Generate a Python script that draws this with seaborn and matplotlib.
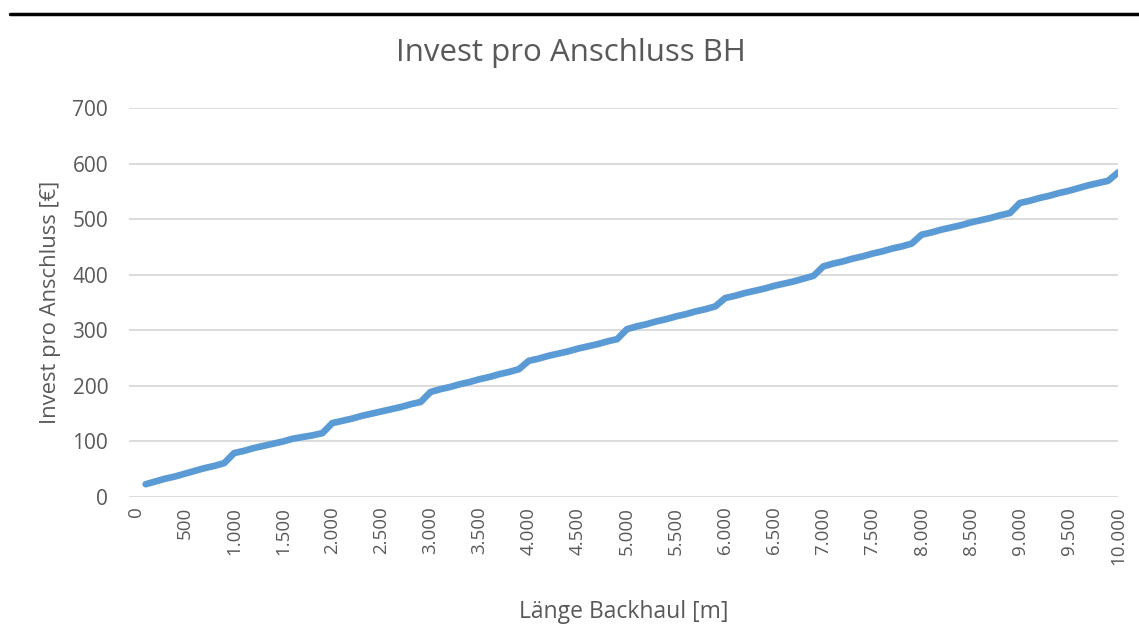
import matplotlib
matplotlib.use('Agg')
import matplotlib.pyplot as plt
from matplotlib.lines import Line2D
from matplotlib.ticker import FuncFormatter
import seaborn as sns

# Data (Länge Backhaul in m, Invest pro Anschluss in €)
laenge = list(range(100, 10100, 100))
invest = [
    23, 28, 33, 37, 42, 47, 52, 56, 61,
    79, 83, 88, 92, 96, 100, 105, 108, 111, 115,
    133, 137, 141, 146, 150, 154, 158, 162, 167, 171,
    189, 194, 198, 203, 207, 212, 216, 221, 225, 230,
    245, 249, 254, 258, 262, 267, 271, 275, 280, 284,
    302, 307, 311, 316, 320, 325, 329, 334, 338, 343,
    358, 362, 367, 371, 375, 380, 384, 388, 393, 398,
    415, 420, 424, 429, 433, 438, 442, 447, 451, 456,
    472, 476, 481, 485, 489, 494, 498, 502, 507, 511,
    529, 533, 538, 542, 547, 551, 556, 561, 565, 569,
    584,
]
x_ticks = list(range(0, 10500, 500))
y_ticks = [0, 100, 200, 300, 400, 500, 600, 700]

title = 'Invest pro Anschluss BH'
x_label = 'Länge Backhaul [m]'
y_label = 'Invest pro Anschluss [€]'

sns.set_theme(style='white')
plt.rcParams['font.family'] = ['Open Sans', 'DejaVu Sans']

grey = '#595959'
fig = plt.figure(figsize=(11.39, 6.37), dpi=100)
ax = fig.add_axes([129 / 1139, 1 - 497 / 637, 989 / 1139, 389 / 637])

sns.lineplot(x=laenge, y=invest, ax=ax, color='#5B9BD5', linewidth=4.8,
             solid_capstyle='round', solid_joinstyle='round')

ax.set_xlim(-70, 10000)
ax.set_ylim(0, 700)
ax.set_xticks(x_ticks)
ax.set_yticks(y_ticks)
ax.xaxis.set_major_formatter(FuncFormatter(lambda v, p: f'{int(v):,}'.replace(',', '.')))
ax.tick_params(axis='x', labelrotation=90, length=0, pad=7, labelsize=13.5, labelcolor=grey)
ax.tick_params(axis='y', length=0, pad=15, labelsize=15, labelcolor=grey)
ax.grid(axis='y', color='#D9D9D9', linewidth=1.3)
ax.set_axisbelow(True)
for s in ['top', 'right', 'left', 'bottom']:
    ax.spines[s].set_visible(False)

ax.set_xlabel(x_label, fontsize=16.5, color=grey, labelpad=25)
ax.set_ylabel(y_label, fontsize=15.8, color=grey, labelpad=8)
fig.text(571 / 1139, 1 - 53 / 637, title, fontsize=22.5, color=grey,
         ha='center', va='center')

# black rule across the top of the picture
fig.add_artist(Line2D([10 / 1139, 1], [1 - 14 / 637, 1 - 14 / 637], color='black', linewidth=2.5))

fig.savefig('out.png', dpi=100)
